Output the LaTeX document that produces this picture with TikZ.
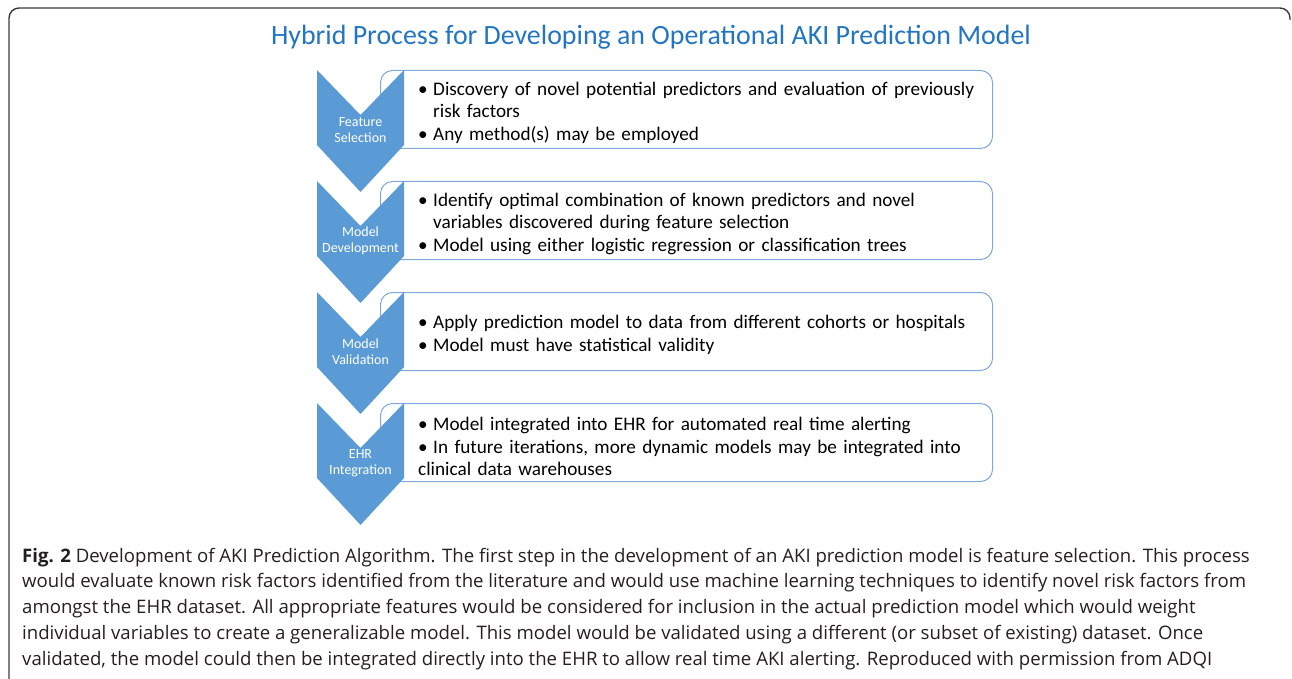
\documentclass[tikz,border=0pt]{standalone}
\usepackage{fontspec}
\setmainfont{Carlito}
\newfontfamily\capfont{Open Sans}
\definecolor{chevblue}{HTML}{5B9BD5}
\definecolor{boxblue}{HTML}{7DA9DC}
\definecolor{titleblue}{HTML}{2275C3}
\definecolor{framegray}{HTML}{3A3A3A}
\definecolor{capgray}{HTML}{231F20}
\tikzset{chev/.append style={fill=chevblue}}
\tikzset{chevtxt/.append style={text=white, font=\fontsize{14}{16}\selectfont, align=center, inner sep=0pt}}
\tikzset{stepbox/.append style={draw=boxblue, line width=1pt, rounded corners=12pt, minimum width=612pt, minimum height=78pt, anchor=north west, inner sep=0pt}}
\tikzset{itemtxt/.append style={anchor=west, text width=562pt, align=left, inner sep=0pt, font=\fontsize{19.2}{21.5}\selectfont}}
\tikzset{captxt/.append style={anchor=base west, inner sep=0pt, text=capgray, font=\capfont\fontsize{18.6}{22}\selectfont}}
\newcommand{\itm}[1]{\par\hyphenpenalty=10000 \exhyphenpenalty=10000 \hangindent=15pt\hangafter=1\noindent\makebox[15pt][l]{\textbullet}#1}
\newcommand{\itmgap}{\par\vspace{2pt}}

\begin{document}
\begin{tikzpicture}[x=1pt,y=-1pt]
                \useasboundingbox (0,0) rectangle (1292,679);
                % frame
                \draw[framegray, line width=1.4pt, rounded corners=10pt] (9,679) -- (9,8) -- (1290,8) -- (1290,20);
                % title
                \node[text=titleblue, font=\fontsize{27.9}{32}\selectfont, inner sep=0pt] (title) at (651,37) {Hybrid Process for Developing an Operational AKI Prediction Model};
                % boxes
                \node[stepbox] (fs) at (380,70) {};
                \node[stepbox] (md) at (380,181) {};
                \node[stepbox] (mv) at (380,292) {};
                \node[stepbox] (ei) at (380,403) {};
                \node[itemtxt] (fstxt) at (418,109) {\itm{Discovery of novel potential predictors and evaluation of previously risk factors}\itmgap\itm{Any method(s) may be employed}};
                \node[itemtxt] (mdtxt) at (418,220) {\itm{Identify optimal combination of known predictors and novel variables discovered during feature selection}\itmgap\itm{Model using either logistic regression or classification trees}};
                \node[itemtxt] (mvtxt) at (418,331) {\itm{Apply prediction model to data from different cohorts or hospitals}\itmgap\itm{Model must have statistical validity}};
                \node[itemtxt] (eitxt) at (418,442) {\itm{Model integrated into EHR for automated real time alerting}\itmgap\itm{In future iterations, more dynamic models may be integrated into clinical data warehouses}};
                % chevrons
                \fill[chev] (317,70) -- (360.5,115) -- (404,70) -- (404,145) -- (360.5,192) -- (317,145) -- cycle;
                \fill[chev] (317,181) -- (360.5,226) -- (404,181) -- (404,256) -- (360.5,303) -- (317,256) -- cycle;
                \fill[chev] (317,292) -- (360.5,337) -- (404,292) -- (404,367) -- (360.5,414) -- (317,367) -- cycle;
                \fill[chev] (317,403) -- (360.5,448) -- (404,403) -- (404,478) -- (360.5,525) -- (317,478) -- cycle;
                \node[chevtxt] (fslab) at (360.5,130) {Feature\\Selection};
                \node[chevtxt] (mdlab) at (360.5,241) {Model\\Development};
                \node[chevtxt] (mvlab) at (360.5,352) {Model\\Validation};
                \node[chevtxt] (eilab) at (360.5,463) {EHR\\Integration};
                % caption
                \node[captxt] (cap1) at (22,562) {\textbf{Fig. 2} Development of AKI Prediction Algorithm. The first step in the development of an AKI prediction model is feature selection. This process};
                \node[captxt] (cap2) at (22,587.8) {would evaluate known risk factors identified from the literature and would use machine learning techniques to identify novel risk factors from};
                \node[captxt] (cap3) at (22,613.6) {amongst the EHR dataset. All appropriate features would be considered for inclusion in the actual prediction model which would weight};
                \node[captxt] (cap4) at (22,639.4) {individual variables to create a generalizable model. This model would be validated using a different (or subset of existing) dataset. Once};
                \node[captxt] (cap5) at (22,665.2) {validated, the model could then be integrated directly into the EHR to allow real time AKI alerting. Reproduced with permission from ADQI};
            \end{tikzpicture}
\end{document}
